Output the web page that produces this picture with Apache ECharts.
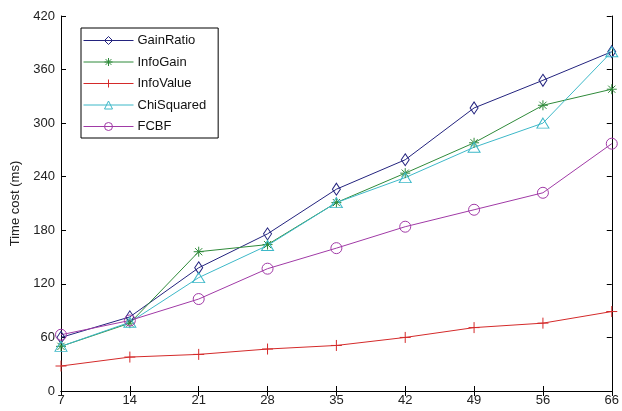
<!DOCTYPE html>
<html>
<head>
<meta charset="utf-8">
<script src="https://cdn.jsdelivr.net/npm/echarts@6/dist/echarts.min.js"></script>
<style>html,body{margin:0;padding:0;background:#fff}#c{width:622px;height:411px}</style>
</head>
<body>
<div id="c"></div>
<script>
const categories = ['7', '14', '21', '28', '35', '42', '49', '56', '66'];
const yTicks = [0, 60, 120, 180, 240, 300, 360, 420];
const gainRatio  = [60, 83, 138, 176, 226, 259, 317, 348, 380];
const infoGain   = [50, 76, 156, 164, 211, 244, 278, 320, 338];
const infoValue  = [28, 38, 41, 47, 51, 60, 71, 76, 89];
const chiSquared = [50, 77, 127, 163, 211, 239, 273, 300, 380];
const fcbf       = [63, 79, 103, 137, 160, 184, 203, 222, 277];

const FONT = 'Liberation Sans, Arial, sans-serif';
const star = 'path://M0,-5L0,5M-5,0L5,0M-3.6,-3.6L3.6,3.6M-3.6,3.6L3.6,-3.6';
const plus = 'path://M0,-5L0,5M-5,0L5,0';

function mk(name, data, color, symbol, size, fillWhite) {
  return {
    name: name, type: 'line', data: data,
    symbol: symbol, symbolSize: size,
    showAllSymbol: true,
    lineStyle: {color: color, width: 1},
    itemStyle: {color: fillWhite ? 'rgba(255,255,255,0)' : color, borderColor: color, borderWidth: 1},
    emphasis: {disabled: true},
    animation: false
  };
}

const chart = echarts.init(document.getElementById('c'), null, {renderer: 'canvas'});
const axisCommon = {
  axisLine: {show: true, lineStyle: {color: '#000', width: 1}},
  axisTick: {show: true, inside: true, length: 5, lineStyle: {color: '#000'}},
  splitLine: {show: false}
};
chart.setOption({
  animation: false,
  grid: {left: 61, right: 9, top: 16, bottom: 20, show: false},
  legend: {
    orient: 'vertical', left: 81, top: 28,
    padding: [6, 12, 5, 2],
    itemWidth: 50, itemHeight: 10, itemGap: 8.5,
    borderColor: '#000', borderWidth: 1, backgroundColor: '#fff',
    lineStyle: {width: 1},
    itemStyle: {borderWidth: 1},
    textStyle: {fontFamily: FONT, fontSize: 13, color: '#111', padding: [0, 0, 0, -1]},
    data: ['GainRatio', 'InfoGain', 'InfoValue', 'ChiSquared', 'FCBF']
  },
  xAxis: [
    Object.assign({type: 'category', data: categories, boundaryGap: false, position: 'bottom',
      axisLabel: {fontFamily: FONT, fontSize: 13, color: '#222', margin: 3, interval: 0}}, axisCommon),
    Object.assign({type: 'category', data: categories, boundaryGap: false, position: 'top',
      axisLabel: {show: false}}, axisCommon)
  ],
  yAxis: [
    Object.assign({type: 'value', min: yTicks[0], max: yTicks[yTicks.length - 1], interval: 60, position: 'left',
      name: 'Time cost (ms)', nameLocation: 'middle', nameGap: 26,
      nameTextStyle: {fontFamily: FONT, fontSize: 13, color: '#222'},
      axisLabel: {fontFamily: FONT, fontSize: 13, color: '#222', margin: 6}}, axisCommon),
    Object.assign({type: 'value', min: yTicks[0], max: yTicks[yTicks.length - 1], interval: 60, position: 'right',
      axisLabel: {show: false}}, axisCommon)
  ],
  series: [
    mk('GainRatio', gainRatio, '#23237e', 'diamond', [8, 12], true),
    mk('InfoGain', infoGain, '#2f8a3a', star, 10, false),
    mk('InfoValue', infoValue, '#d42a2a', plus, 11, false),
    mk('ChiSquared', chiSquared, '#3db8c8', 'triangle', [12, 10], true),
    mk('FCBF', fcbf, '#a03aa6', 'circle', 11, true)
  ]
});
</script>
</body>
</html>
